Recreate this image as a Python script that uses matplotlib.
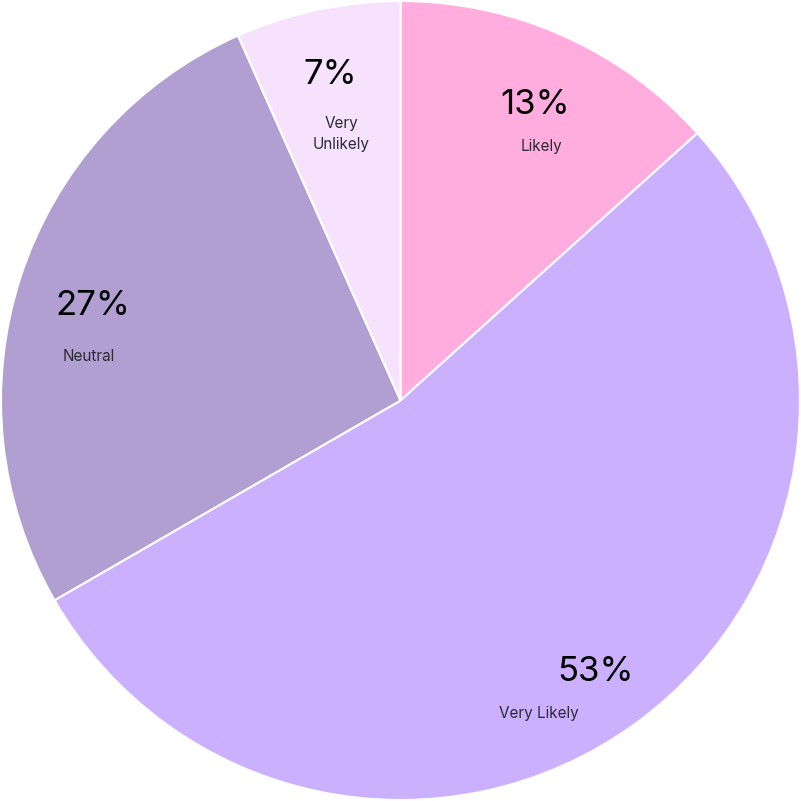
import numpy as np
import matplotlib.pyplot as plt

# data (answer counts -> shares)
labels = ['Likely', 'Very Likely', 'Neutral', 'Very\nUnlikely']
counts = [2, 8, 4, 1]
colors = ['#FFADDF', '#CBB0FF', '#B19FD1', '#F7E2FD']

# nudges for the percentages and category names (pixels)
pct_dx = [1, 2, 4, -2]
pct_dy = [-4, -6, -7, 5]
name_dx = [7, -56, -4, 11]
name_dy = [-41, -42, -50, -59]

plt.rcParams['font.family'] = ['Inter', 'DejaVu Sans']

fig = plt.figure(figsize=(8.01, 8.01), dpi=100)
ax = fig.add_axes([0, 0, 1, 1])

wedges, _ = ax.pie(counts, colors=colors, startangle=90, counterclock=False,
                   radius=1.0, wedgeprops=dict(edgecolor='white', linewidth=1.5))

# pie() resets the limits, so set them afterwards
ax.set_xlim(-1.0025, 1.0025)
ax.set_ylim(-1.0025, 1.0025)
ax.set_aspect('equal')
ax.axis('off')

total = sum(counts)
px = 2.005 / 801  # data units per pixel
for i, (w, lab, c) in enumerate(zip(wedges, labels, counts)):
    ang = np.deg2rad((w.theta1 + w.theta2) / 2)
    r = 0.82
    x = r * np.cos(ang) + pct_dx[i] * px
    y = r * np.sin(ang) + pct_dy[i] * px
    ax.text(x, y, f'{round(100 * c / total)}%', ha='center', va='center',
            fontsize=25, color='black')
    ax.text(x + name_dx[i] * px, y + name_dy[i] * px, lab, ha='center', va='center',
            fontsize=11, color='#2E2A33', linespacing=1.5)

fig.savefig('out.png', dpi=100)
